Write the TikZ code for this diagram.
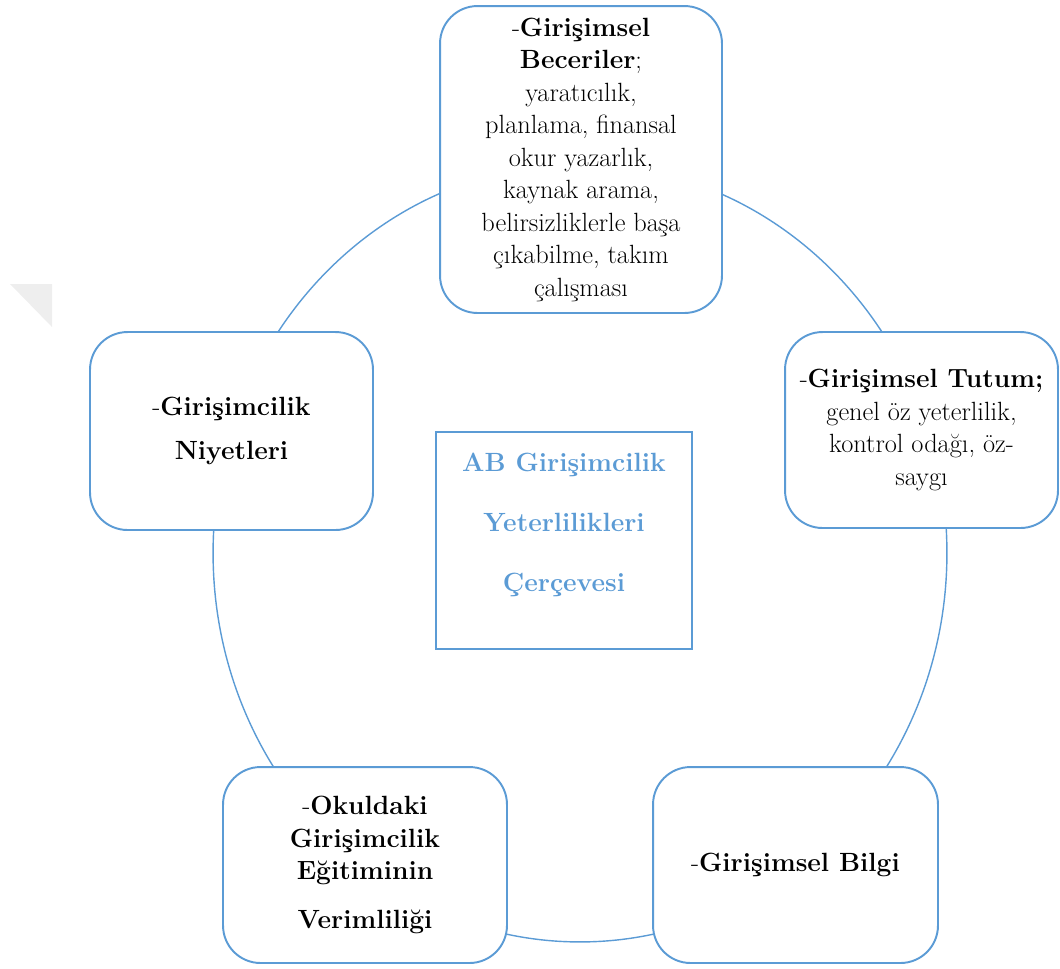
\documentclass[tikz,border=0pt]{standalone}
\usepackage{fontspec}
\pgfdeclarelayer{background layer}
\pgfsetlayers{background layer,main}
\definecolor{frameblue}{HTML}{5B9BD5}
\definecolor{markgray}{HTML}{EEEEEE}
\tikzstyle{part}=[draw=frameblue,line width=1.1pt,fill=white,rounded corners=0.75cm,align=center,inner sep=2pt,font=\fontsize{15}{18.5}\selectfont]
\tikzstyle{core}=[draw=frameblue,line width=1.1pt,fill=white,inner sep=0pt]
\tikzstyle{coretext}=[text=frameblue,align=center,font=\bfseries\fontsize{15}{34}\selectfont]
\tikzstyle{ring}=[draw=frameblue,line width=0.8pt]

\begin{document}
\begin{tikzpicture}[x=0.02cm,y=-0.02cm]
			\useasboundingbox (0,0) rectangle (1060,968);
			% faint mark on the left edge
			\fill[markgray] (10,284) -- (52,284) -- (52,327) -- cycle;
			
			\coordinate (hub) at (580,553);
			\node[part,minimum width=5.64cm,minimum height=6.14cm] (beceri) at (581,159.5)
				{-\textbf{Girişimsel}\\\textbf{Beceriler};\\yaratıcılık,\\planlama, finansal\\okur yazarlık,\\kaynak arama,\\belirsizliklerle başa\\çıkabilme, takım\\çalışması};
			\node[part,minimum width=5.66cm,minimum height=3.96cm] (niyet) at (231.5,431)
				{-\textbf{Girişimcilik}\\[7pt]\textbf{Niyetleri}};
			\node[part,minimum width=5.46cm,minimum height=3.92cm] (tutum) at (921.5,430)
				{-\textbf{Girişimsel Tutum;}\\genel öz yeterlilik,\\kontrol odağı, öz-\\saygı};
			\node[part,minimum width=5.68cm,minimum height=3.92cm] (okul) at (365,865)
				{-\textbf{Okuldaki}\\\textbf{Girişimcilik}\\\textbf{Eğitiminin}\\[9pt]\textbf{Verimliliği}};
			\node[part,minimum width=5.7cm,minimum height=3.92cm] (bilgi) at (795.5,865)
				{-\textbf{Girişimsel Bilgi}};
			
			\node[core,minimum width=5.12cm,minimum height=4.34cm] (cerceve) at (564,540.5) {};
			\node[coretext] (cercevetext) at (564,525)
				{AB Girişimcilik\\Yeterlilikleri\\Çerçevesi};
			
			\begin{pgfonlayer}{background layer}
				\draw[ring] (hub) ellipse [x radius=7.34cm, y radius=7.78cm];
			\end{pgfonlayer}
		\end{tikzpicture}
\end{document}
